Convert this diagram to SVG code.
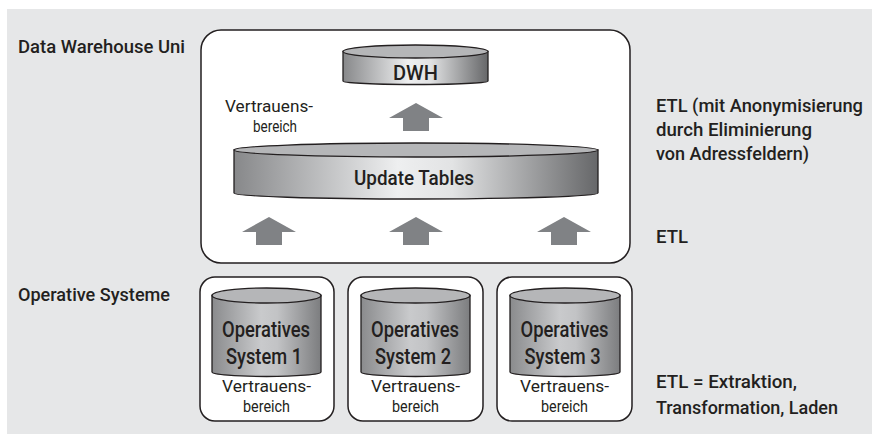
<svg xmlns="http://www.w3.org/2000/svg" width="872" height="434" viewBox="0 0 872 434">
<defs>
<linearGradient id="gBig" x1="0" y1="0" x2="1" y2="0">
<stop offset="0" stop-color="#87888a"/>
<stop offset="0.45" stop-color="#eeeff0"/>
<stop offset="0.6" stop-color="#e2e3e4"/>
<stop offset="1" stop-color="#666769"/>
</linearGradient>
<linearGradient id="gOp" x1="0" y1="0" x2="1" y2="0">
<stop offset="0" stop-color="#8a8b8d"/>
<stop offset="0.45" stop-color="#c9cacc"/>
<stop offset="0.6" stop-color="#c2c3c5"/>
<stop offset="1" stop-color="#7c7d7f"/>
</linearGradient>
<polygon id="arr" points="0,0 27,15 13,15 13,28 -13,28 -13,15 -27,15"/>
</defs>
<style>
.t{font-family:Roboto,"Liberation Sans",sans-serif;fill:#231f20;}
.lbl{font-size:18.5px;font-weight:500;}
.small{font-size:17px;}
.box{fill:#fff;stroke:#231f20;stroke-width:1.5;}
.cyl{stroke:#231f20;stroke-width:1.3;}
.top{fill:#b5b6b8;stroke:#231f20;stroke-width:1.3;}
.arrow{fill:#808285;}
</style>
<rect x="7" y="9" width="865" height="425" fill="#e6e7e8"/>

<g id="labels">
<text class="t lbl" x="18" y="53" textLength="167" lengthAdjust="spacingAndGlyphs">Data Warehouse Uni</text>
<text class="t lbl" x="18" y="301" textLength="152" lengthAdjust="spacingAndGlyphs">Operative Systeme</text>
<text class="t lbl" x="656" y="112" textLength="207" lengthAdjust="spacingAndGlyphs">ETL (mit Anonymisierung</text>
<text class="t lbl" x="656" y="136" textLength="156" lengthAdjust="spacingAndGlyphs">durch Eliminierung</text>
<text class="t lbl" x="656" y="160" textLength="153" lengthAdjust="spacingAndGlyphs">von Adressfeldern)</text>
<text class="t lbl" x="656" y="243" textLength="32" lengthAdjust="spacingAndGlyphs">ETL</text>
<text class="t lbl" x="656" y="388" textLength="141" lengthAdjust="spacingAndGlyphs">ETL = Extraktion,</text>
<text class="t lbl" x="656" y="414" textLength="182" lengthAdjust="spacingAndGlyphs">Transformation, Laden</text>
</g>

<g id="dwh-uni">
<rect class="box" x="201" y="30" width="429" height="233" rx="20"/>
<text class="t small" x="269" y="112" text-anchor="middle" textLength="88" lengthAdjust="spacingAndGlyphs">Vertrauens-</text>
<text class="t small" x="275" y="132" text-anchor="middle" textLength="44" lengthAdjust="spacingAndGlyphs">bereich</text>
</g>

<g id="dwh">
<path class="cyl" fill="url(#gBig)" d="M343,51.5 L343,81 A72.5,3.5 0 0 0 488,81 L488,51.5 Z"/>
<ellipse class="top" cx="415.5" cy="51.5" rx="72.5" ry="6.5"/>
<text class="t" x="415.5" y="80" font-size="20" font-weight="500" text-anchor="middle" textLength="45" lengthAdjust="spacingAndGlyphs">DWH</text>
</g>

<g id="update-tables">
<path class="cyl" fill="url(#gBig)" d="M234,150 L234,193 A182,6 0 0 0 598,193 L598,150 Z"/>
<ellipse class="top" cx="416" cy="150" rx="182" ry="7"/>
<text class="t" x="414" y="185" font-size="21" font-weight="500" text-anchor="middle" textLength="120" lengthAdjust="spacingAndGlyphs">Update Tables</text>
</g>

<g id="op1">
<rect class="box" x="200" y="277" width="134" height="144" rx="15"/>
<path class="cyl" fill="url(#gOp)" d="M212,295.5 L212,372 A54.5,4.5 0 0 0 321,372 L321,295.5 Z"/>
<ellipse class="top" cx="266.5" cy="295.5" rx="54.5" ry="7.5"/>
<text class="t" x="266" y="337" font-size="22" font-weight="500" text-anchor="middle" textLength="88" lengthAdjust="spacingAndGlyphs">Operatives</text>
<text class="t" x="264" y="364" font-size="22" font-weight="500" text-anchor="middle" textLength="76" lengthAdjust="spacingAndGlyphs">System 1</text>
<text class="t small" x="266.5" y="392" text-anchor="middle" textLength="89" lengthAdjust="spacingAndGlyphs">Vertrauens-</text>
<text class="t small" x="266.5" y="412" text-anchor="middle" textLength="47" lengthAdjust="spacingAndGlyphs">bereich</text>
</g>

<g id="op2">
<rect class="box" x="348" y="277" width="135" height="144" rx="15"/>
<path class="cyl" fill="url(#gOp)" d="M361,295.5 L361,372 A54.5,4.5 0 0 0 470,372 L470,295.5 Z"/>
<ellipse class="top" cx="415.5" cy="295.5" rx="54.5" ry="7.5"/>
<text class="t" x="415" y="337" font-size="22" font-weight="500" text-anchor="middle" textLength="88" lengthAdjust="spacingAndGlyphs">Operatives</text>
<text class="t" x="413" y="364" font-size="22" font-weight="500" text-anchor="middle" textLength="76" lengthAdjust="spacingAndGlyphs">System 2</text>
<text class="t small" x="415.5" y="392" text-anchor="middle" textLength="89" lengthAdjust="spacingAndGlyphs">Vertrauens-</text>
<text class="t small" x="415.5" y="412" text-anchor="middle" textLength="47" lengthAdjust="spacingAndGlyphs">bereich</text>
</g>

<g id="op3">
<rect class="box" x="497" y="277" width="135" height="144" rx="15"/>
<path class="cyl" fill="url(#gOp)" d="M510,295.5 L510,372 A55,4.5 0 0 0 620,372 L620,295.5 Z"/>
<ellipse class="top" cx="565" cy="295.5" rx="55" ry="7.5"/>
<text class="t" x="564.5" y="337" font-size="22" font-weight="500" text-anchor="middle" textLength="88" lengthAdjust="spacingAndGlyphs">Operatives</text>
<text class="t" x="562.5" y="364" font-size="22" font-weight="500" text-anchor="middle" textLength="76" lengthAdjust="spacingAndGlyphs">System 3</text>
<text class="t small" x="564.5" y="392" text-anchor="middle" textLength="89" lengthAdjust="spacingAndGlyphs">Vertrauens-</text>
<text class="t small" x="564.5" y="412" text-anchor="middle" textLength="47" lengthAdjust="spacingAndGlyphs">bereich</text>
</g>

<g id="connectors">
<use href="#arr" class="arrow" x="416" y="103"/>
<use href="#arr" class="arrow" x="269" y="217"/>
<use href="#arr" class="arrow" x="416" y="217"/>
<use href="#arr" class="arrow" x="564" y="217"/>
</g>
</svg>
